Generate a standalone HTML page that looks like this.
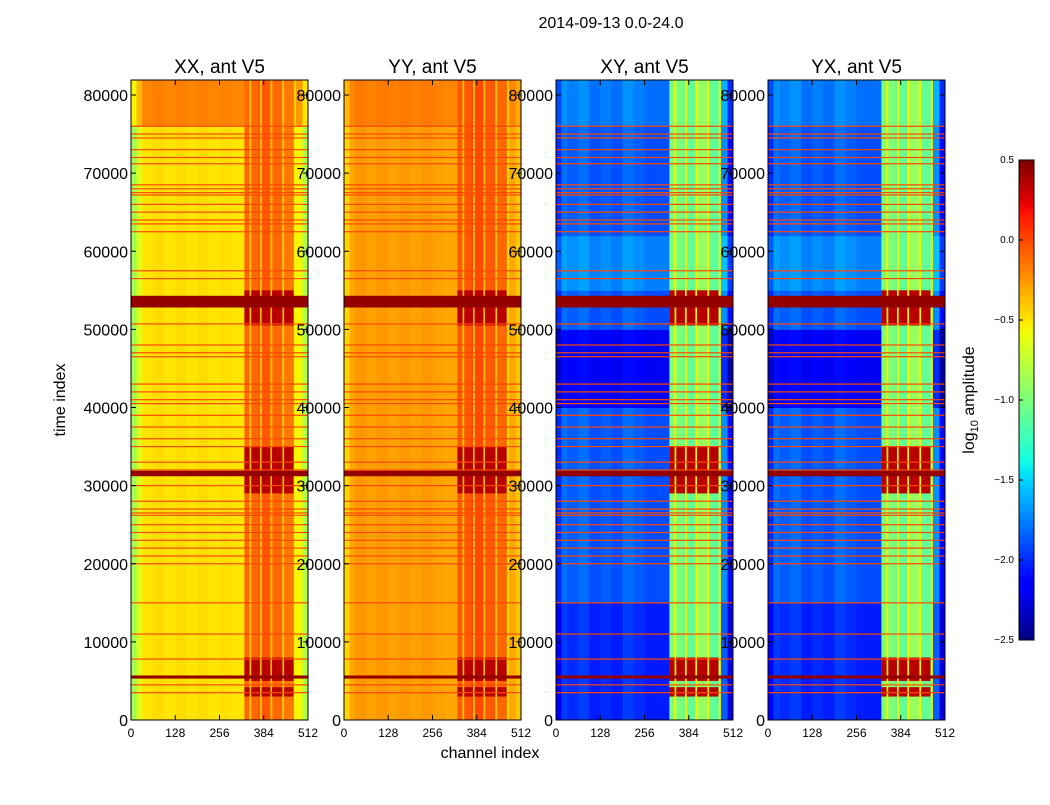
<!DOCTYPE html>
<html><head><meta charset="utf-8">
<style>
body{margin:0;background:#fff;width:1050px;height:800px;overflow:hidden}
svg text{font-family:"Liberation Sans",sans-serif}
</style></head>
<body>
<svg id="fig" width="1050" height="800" xmlns="http://www.w3.org/2000/svg">
<text x="611" y="28" font-size="16" text-anchor="middle">2014-09-13 0.0-24.0</text>
<text x="490" y="758" font-size="16" text-anchor="middle">channel index</text>
<text transform="translate(65,400) rotate(-90)" font-size="16" text-anchor="middle">time index</text>
<g id="panels"></g>
<g id="cbar"></g>
</svg>
<script>
// ---- data ----
const panelTitles = ['XX, ant V5','YY, ant V5','XY, ant V5','YX, ant V5'];
const channelEdges = [0,16,32,64,96,128,160,192,224,256,288,328,368,408,440,472,496,512];
const baseXX = [-0.85,-0.65,-0.5,-0.47,-0.5,-0.47,-0.5,-0.47,-0.5,-0.48,-0.5,-0.1,-0.05,-0.1,-0.15,-0.55,-0.8];
const baseYY = [-0.45,-0.3,-0.25,-0.28,-0.25,-0.28,-0.25,-0.28,-0.25,-0.28,-0.3,-0.05,0.0,-0.05,-0.1,-0.3,-0.4];
const baseXY = [-2.0,-1.8,-1.85,-1.8,-1.9,-1.85,-1.9,-1.8,-1.85,-1.9,-1.9,-1.0,-1.1,-0.9,-1.1,-1.7,-2.1];
const baseYX = [-2.0,-1.8,-1.85,-1.8,-1.9,-1.85,-1.9,-1.8,-1.85,-1.9,-1.9,-1.0,-1.1,-0.9,-1.1,-1.7,-2.1];
const segXX = [[76000,81920,0.3]];
const segYY = [[76000,81920,0.1]];
const segXY = [[76000,81920,0.1],[40000,50000,-0.3],[0,15000,-0.15],[55000,62000,0.15]];
const segYX = [[76000,81920,0.1],[40000,50000,-0.3],[0,15000,-0.15],[55000,62000,0.15]];
const redLines = [76000,75000,74500,73000,72000,71200,68500,68000,67200,67500,66000,65000,64000,63500,62500,57500,56500,50700,48000,47000,46500,43000,42000,41000,40500,39000,37500,36000,35000,33000,32000,30000,28000,27000,26200,26500,25000,24000,23000,22000,21000,20000,15000,11000,7800,4500,3500];
const lineValue = 0.0;
const darkBands = [[52800,54300],[31200,31900],[5300,5700]];
const darkValue = 0.45;
const hotTimes = [[29000,35000],[50500,55000],[5000,8000],[3000,4200]];
const hotChannels = [[328,343],[348,373],[378,403],[408,438],[443,470]];
const hotValue = 0.35;
const brightLinesCh = [345,376,406,440,474];
const brightValue = -0.55;
const xTicks = [0,128,256,384,512];
const yTicks = [0,10000,20000,30000,40000,50000,60000,70000,80000];
const cbTicks = [0.5,0.0,-0.5,-1.0,-1.5,-2.0,-2.5];

// ---- layout ----
const panelX = [131,344,556,768], pw = 177, plotTop = 80, plotBot = 720;
const vmin = -2.5, vmax = 0.5;
const jr=[[0,0],[0.35,0],[0.66,1],[0.89,1],[1,0.5]], jg=[[0,0],[0.125,0],[0.375,1],[0.64,1],[0.91,0],[1,0]], jb=[[0,0.5],[0.11,1],[0.34,1],[0.65,0],[1,0]];
function seg(s,t){for(let i=0;i<s.length-1;i++){if(t<=s[i+1][0]){const f=(t-s[i][0])/(s[i+1][0]-s[i][0]);return s[i][1]+f*(s[i+1][1]-s[i][1]);}}return s[s.length-1][1];}
function jet(v){let t=(v-vmin)/(vmax-vmin);t=Math.max(0,Math.min(1,t));
 const c=x=>Math.round(255*x);
 return `rgb(${c(seg(jr,t))},${c(seg(jg,t))},${c(seg(jb,t))})`;}
const NS='http://www.w3.org/2000/svg';
function mk(tag,attrs,parent){const e=document.createElementNS(NS,tag);for(const k in attrs)e.setAttribute(k,attrs[k]);parent.appendChild(e);return e;}
const bases=[baseXX,baseYY,baseXY,baseYX], segs=[segXX,segYY,segXY,segYX];
const root=document.getElementById('panels');
panelX.forEach((px,p)=>{
 const xs=ch=>px+ch/512*pw, ys=t=>plotBot-t/81920*(plotBot-plotTop);
 const g=mk('g',{},root);
 
 
 const bounds=[0,81920];segs[p].forEach(s=>{bounds.push(s[0],s[1]);});
 const bs=[...new Set(bounds)].sort((a,b)=>a-b);
 for(let i=0;i<bs.length-1;i++){
  const t0=bs[i],t1=bs[i+1],tm=(t0+t1)/2;
  let off=0;segs[p].forEach(s=>{if(tm>=s[0]&&tm<s[1])off+=s[2];});
  bases[p].forEach((v,b)=>{
   const hot=(b>=11&&b<15);
   const r=mk('rect',{x:xs(channelEdges[b]),y:ys(t1),width:xs(channelEdges[b+1])-xs(channelEdges[b])+0.5,height:ys(t0)-ys(t1)+0.5,fill:jet(v+(hot?0:off))},g);
   
   
  });
 }
 brightLinesCh.forEach(ch=>{
  const r=mk('rect',{x:xs(ch)-1,y:plotTop,width:2,height:plotBot-plotTop,fill:jet(p>=2?brightValue:-0.6),opacity:p>=2?1:0.6},g);
  
  });
 hotTimes.forEach((ht,i)=>{hotChannels.forEach(hc=>{
  const r=mk('rect',{x:xs(hc[0]),y:ys(ht[1]),width:xs(hc[1])-xs(hc[0]),height:ys(ht[0])-ys(ht[1]),fill:jet(hotValue)},g);
  
  });});
 redLines.forEach(t=>{
  const r=mk('rect',{x:px,y:ys(t)-0.6,width:pw,height:1.2,fill:jet(lineValue)},g);
  
  });
 darkBands.forEach(d=>{
  const r=mk('rect',{x:px,y:ys(d[1]),width:pw,height:ys(d[0])-ys(d[1]),fill:jet(darkValue)},g);
  
  });
 const fr=mk('rect',{x:px,y:plotTop,width:pw,height:plotBot-plotTop,fill:'none',stroke:'#000','stroke-width':1},g);
 
 
 const tt=mk('text',{x:px+pw/2,y:73,'font-size':19,'text-anchor':'middle'},g);tt.textContent=panelTitles[p];
 
 
 xTicks.forEach(v=>{const x=xs(v);
  mk('line',{x1:x,x2:x,y1:plotBot,y2:plotBot-5,stroke:'#000'},g);mk('line',{x1:x,x2:x,y1:plotTop,y2:plotTop+5,stroke:'#000'},g);
  const t=mk('text',{x:x,y:737,'font-size':12,'text-anchor':'middle'},g);t.textContent=v;
  
  });
 yTicks.forEach(v=>{const y=ys(v);
  mk('line',{x1:px,x2:px+5,y1:y,y2:y,stroke:'#000'},g);mk('line',{x1:px+pw,x2:px+pw-5,y1:y,y2:y,stroke:'#000'},g);
  const t=mk('text',{x:px-3,y:y+6,'font-size':16,'text-anchor':'end'},g);t.textContent=v;
  
  });
});
const cb=document.getElementById('cbar');const cx=1019,cw=15,ct=160,cbb=640;
for(let i=0;i<120;i++){const v0=vmin+(vmax-vmin)*i/120;
 const r=mk('rect',{x:cx,y:cbb-(i+1)*(cbb-ct)/120,width:cw,height:(cbb-ct)/120+0.5,fill:jet(v0+(vmax-vmin)/240)},cb);
 
 }
mk('rect',{x:cx,y:ct,width:cw,height:cbb-ct,fill:'none',stroke:'#000'},cb);
cbTicks.forEach(v=>{const y=cbb-(v-vmin)/(vmax-vmin)*(cbb-ct);
 mk('line',{x1:cx,x2:cx+4,y1:y,y2:y,stroke:'#000'},cb);
 const t=mk('text',{x:1014,y:y+3,'font-size':10,'text-anchor':'end'},cb);t.textContent=(v<0?'\u2212':'')+Math.abs(v).toFixed(1);
 
 });
const lab=mk('text',{transform:'translate(974,400) rotate(-90)','font-size':16,'text-anchor':'middle'},cb);
lab.innerHTML='log<tspan font-size="11" dy="4">10</tspan><tspan dy="-4"> amplitude</tspan>';


</script>
</body></html>
